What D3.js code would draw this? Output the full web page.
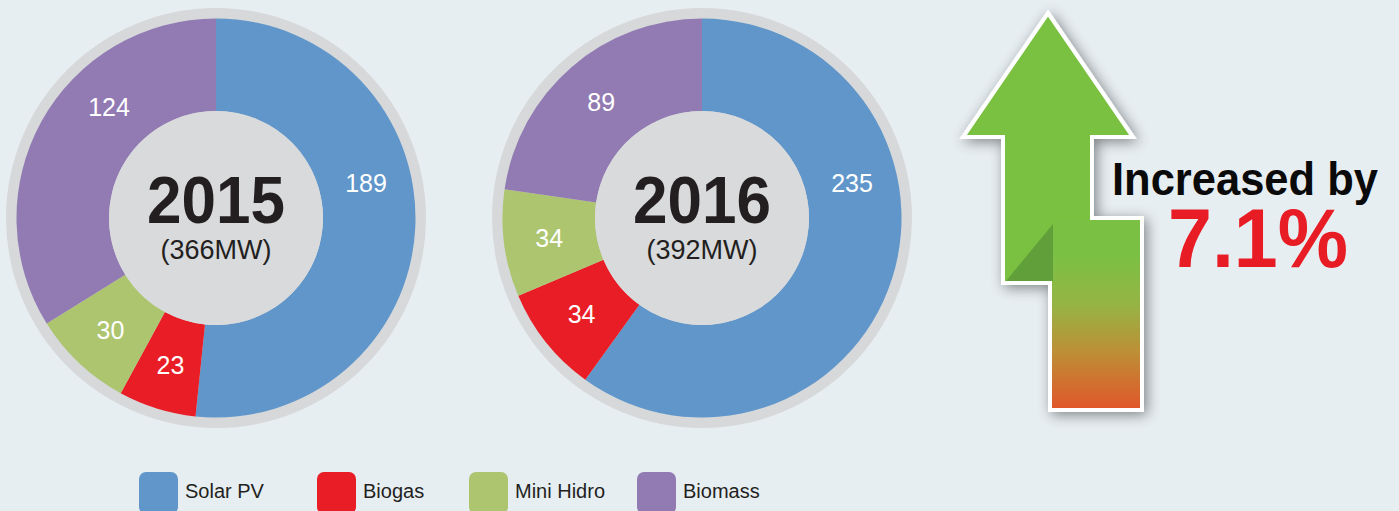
<!DOCTYPE html>
<html>
<head>
<meta charset="utf-8">
<script src="https://cdn.jsdelivr.net/npm/d3@7"></script>
<style>
  html, body { margin: 0; padding: 0; background: #e7eef2; }
  svg { display: block; }
</style>
</head>
<body>
<div id="chart"></div>
<script>
// data
const categories = ["Solar PV", "Biogas", "Mini Hidro", "Biomass"];
const years = ["2015", "2016"];
const values2015 = [189, 23, 30, 124];
const values2016 = [235, 34, 34, 89];
const colors = ["#6096ca", "#e91d25", "#adc56f", "#927bb3"];

var w = 1399, h = 511;

var svg = d3.select("#chart")
    .append("svg")
    .attr("width", w)
    .attr("height", h);

svg.append("rect").attr("width", w).attr("height", h).attr("fill", "#e7eef2");

var color = d3.scaleOrdinal().domain(categories).range(colors);

// donut layout
var cx = d3.scalePoint().domain(years).range([216, 702]);
var cy = 218;
var ringR = 210, outerR = 199.5, innerR = 107, labelR = 154;

var pie = d3.pie().sort(null).value(d => d.value);
var arc = d3.arc().innerRadius(innerR).outerRadius(outerR);

var series = [values2015, values2016];

years.forEach(function (year, i) {
    var rows = categories.map((c, j) => ({ name: c, value: series[i][j] }));
    var total = d3.sum(rows, d => d.value);

    var g = svg.append("g")
        .attr("transform", "translate(" + cx(year) + "," + cy + ")");

    g.append("circle").attr("r", ringR).attr("fill", "#d6d8da");

    var slices = pie(rows);

    g.selectAll(".slice")
        .data(slices)
        .enter()
        .append("path")
        .attr("class", "slice")
        .attr("d", arc)
        .attr("fill", d => color(d.data.name));

    g.append("circle").attr("r", innerR).attr("fill", "#d9dadc");

    // wide slices keep their label up in the top part of the ring
    function labelAngle(d) {
        var mid = (d.startAngle + d.endAngle) / 2;
        if (d.endAngle - d.startAngle > Math.PI * 0.55) {
            if (mid < Math.PI) return Math.min(mid, 77 * Math.PI / 180);
            return Math.max(mid, 316 * Math.PI / 180);
        }
        return mid;
    }

    g.selectAll(".lbl")
        .data(slices)
        .enter()
        .append("text")
        .attr("class", "lbl")
        .attr("x", d => labelR * Math.sin(labelAngle(d)))
        .attr("y", d => -labelR * Math.cos(labelAngle(d)))
        .attr("dy", "0.36em")
        .attr("text-anchor", "middle")
        .attr("fill", "#ffffff")
        .style("font-family", "'Liberation Sans', Arial, sans-serif")
        .style("font-size", "25px")
        .text(d => d.data.value);

    g.append("text")
        .attr("y", 5)
        .attr("text-anchor", "middle")
        .attr("textLength", 138)
        .attr("lengthAdjust", "spacingAndGlyphs")
        .attr("fill", "#231f20")
        .style("font-family", "'Liberation Sans', Arial, sans-serif")
        .style("font-weight", "bold")
        .style("font-size", "66px")
        .text(year);

    g.append("text")
        .attr("y", 41)
        .attr("text-anchor", "middle")
        .attr("fill", "#231f20")
        .style("font-family", "'Liberation Sans', Arial, sans-serif")
        .style("font-size", "27px")
        .text("(" + total + "MW)");
});

// arrow on the right
var defs = svg.append("defs");

var shadow = defs.append("filter")
    .attr("id", "arrowShadow")
    .attr("x", "-30%").attr("y", "-20%")
    .attr("width", "160%").attr("height", "140%");
shadow.append("feGaussianBlur").attr("in", "SourceAlpha").attr("stdDeviation", 7);
shadow.append("feOffset").attr("dx", 3).attr("dy", 3).attr("result", "blur");
shadow.append("feComponentTransfer")
    .append("feFuncA").attr("type", "linear").attr("slope", 0.45);
var merge = shadow.append("feMerge");
merge.append("feMergeNode");
merge.append("feMergeNode").attr("in", "SourceGraphic");

var grad = defs.append("linearGradient")
    .attr("id", "shaftGrad")
    .attr("x1", 0).attr("y1", 0).attr("x2", 0).attr("y2", 1);
[[0, "#7ac143"], [0.18, "#7ac143"], [0.45, "#96b444"], [0.7, "#bd8f36"], [1, "#e0582a"]]
    .forEach(s => grad.append("stop").attr("offset", s[0]).attr("stop-color", s[1]));

var arrowPts = [[1048, 13], [1133, 137], [1092, 137], [1092, 218], [1142, 218], [1142, 410],
    [1050, 410], [1050, 283], [1003, 283], [1003, 137], [963, 137]];
var line = d3.line().curve(d3.curveLinearClosed);

var arrow = svg.append("g");

arrow.append("path")
    .attr("d", line(arrowPts))
    .attr("fill", "#7ac143")
    .attr("stroke", "#ffffff")
    .attr("stroke-width", 4)
    .attr("stroke-linejoin", "miter")
    .attr("filter", "url(#arrowShadow)");

arrow.append("rect")
    .attr("x", 1052).attr("y", 220)
    .attr("width", 88).attr("height", 188)
    .attr("fill", "url(#shaftGrad)");

arrow.append("path")
    .attr("d", line([[1053, 224], [1053, 281], [1006, 281]]))
    .attr("fill", "#619f3a");

svg.append("text")
    .attr("x", 1112).attr("y", 195)
    .attr("textLength", 266)
    .attr("lengthAdjust", "spacingAndGlyphs")
    .attr("fill", "#0a0a0a")
    .style("font-family", "'Liberation Sans', Arial, sans-serif")
    .style("font-weight", "bold")
    .style("font-size", "46px")
    .text("Increased by");

svg.append("text")
    .attr("x", 1168).attr("y", 267)
    .attr("textLength", 180)
    .attr("lengthAdjust", "spacingAndGlyphs")
    .attr("fill", "#e81c24")
    .style("font-family", "'Liberation Sans', Arial, sans-serif")
    .style("font-weight", "bold")
    .style("font-size", "84px")
    .text(d3.format(".1%")(d3.sum(values2016) / d3.sum(values2015) - 1));

// legend
var legendX = [139, 317, 469, 637];
var legend = svg.append("g")
    .selectAll(".legend")
    .data(categories)
    .enter()
    .append("g")
    .attr("transform", (d, i) => "translate(" + legendX[i] + ",472)");

legend.append("rect")
    .attr("width", 39).attr("height", 42)
    .attr("rx", 7).attr("ry", 7)
    .attr("fill", d => color(d));

legend.append("text")
    .attr("x", 46).attr("y", 26)
    .attr("fill", "#231f20")
    .style("font-family", "'Liberation Sans', Arial, sans-serif")
    .style("font-size", "20px")
    .text(d => d);
</script>
</body>
</html>
